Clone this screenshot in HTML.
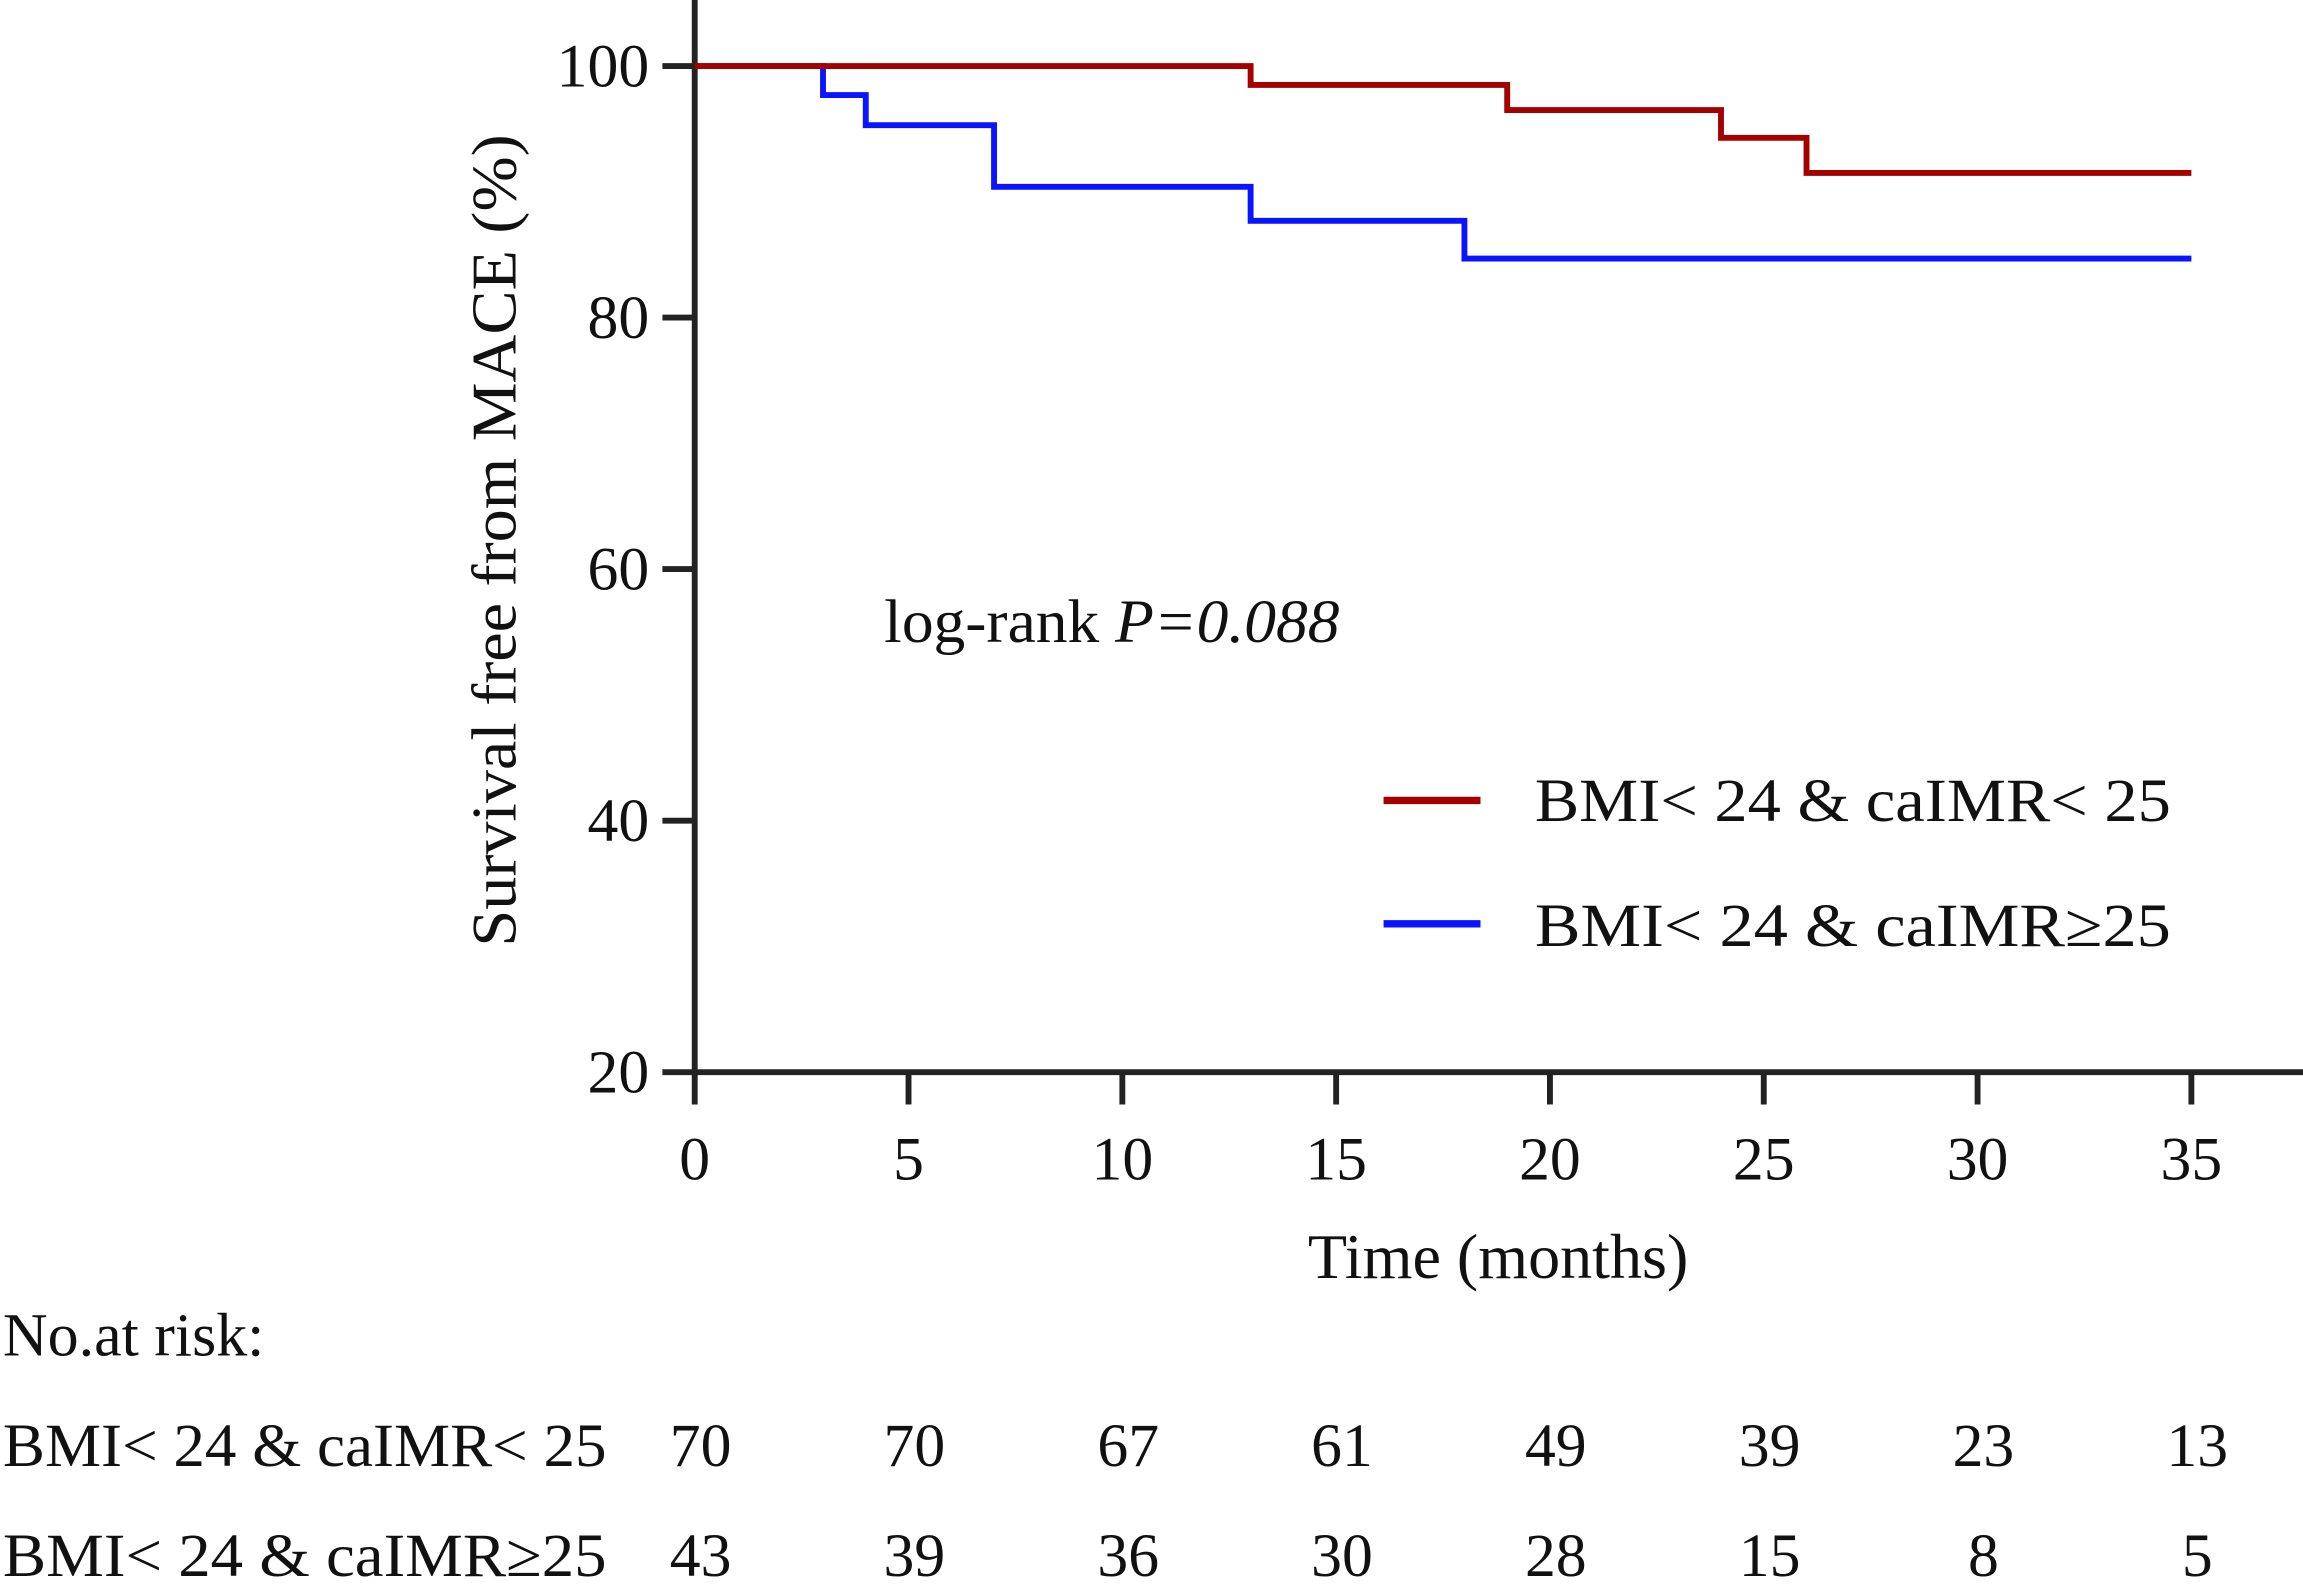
<!DOCTYPE html>
<html><head><meta charset="utf-8"><style>html,body{margin:0;padding:0;background:#fff}svg{display:block}text{font-family:"Liberation Serif",serif;fill:#111}</style></head>
<body>
<svg id="chart" width="2303" height="1584" viewBox="0 0 1568 1078.5" preserveAspectRatio="none" xmlns="http://www.w3.org/2000/svg">
<g id="g"></g>
</svg>
<script>
const xTicks=[0,5,10,15,20,25,30,35];
const yTicks=[20,40,60,80,100];
const redTimes=[0,13,19,24,26,35];
const redSurv=[100,98.5,96.5,94.3,91.5,91.5];
const blueTimes=[0,3,4,7,13,18,35];
const blueSurv=[100,97.7,95.3,90.4,87.7,84.7,84.7];
const riskTimes=[0,5,10,15,20,25,30,35];
const riskRed=[70,70,67,61,49,39,23,13];
const riskBlue=[43,39,36,30,28,15,8,5];
const X=t=>473+t*(1492-473)/35;
const Y=v=>730-(v-20)*(730-45)/80;
const NS="http://www.w3.org/2000/svg";
const g=document.getElementById('g');
function el(tag,attrs,txt){const e=document.createElementNS(NS,tag);for(const k in attrs)e.setAttribute(k,attrs[k]);if(txt!==undefined)e.textContent=txt;g.appendChild(e);return e;}
let e;
e=el('line',{x1:473,y1:0,x2:473,y2:732,stroke:'#222','stroke-width':4});


e=el('line',{x1:471,y1:730,x2:1568,y2:730,stroke:'#222','stroke-width':4});


xTicks.forEach(t=>{
 e=el('line',{x1:X(t),y1:730,x2:X(t),y2:752,stroke:'#222','stroke-width':4});
 
 
 e=el('text',{x:X(t),y:803,'text-anchor':'middle','font-size':42},t);
 
 
});
yTicks.forEach(v=>{
 e=el('line',{x1:451,y1:Y(v),x2:473,y2:Y(v),stroke:'#222','stroke-width':4});
 
 
 e=el('text',{x:442,y:Y(v)+14,'text-anchor':'end','font-size':42},v);
 
 
});
e=el('text',{x:1020,y:870,'text-anchor':'middle','font-size':43,textLength:259,lengthAdjust:'spacingAndGlyphs'},'Time (months)');


e=el('text',{x:0,y:0,'text-anchor':'middle','font-size':43,textLength:553,lengthAdjust:'spacingAndGlyphs',transform:'translate(351,368) rotate(-90)'},'Survival free from MACE (%)');


function step(ts,vs){let d='M'+X(ts[0])+','+Y(vs[0]);for(let i=1;i<ts.length;i++){d+=' H'+X(ts[i])+' V'+Y(vs[i]);}return d;}
e=el('path',{d:step(blueTimes,blueSurv),fill:'none',stroke:'#0a14ff','stroke-width':4});


e=el('path',{d:step(redTimes,redSurv),fill:'none',stroke:'#a50000','stroke-width':4});


e=el('text',{x:602,y:437,'font-size':42,textLength:310,lengthAdjust:'spacingAndGlyphs'});
e.innerHTML='log-rank <tspan font-style="italic">P=0.088</tspan>';


e=el('line',{x1:942,y1:545,x2:1008,y2:545,stroke:'#a50000','stroke-width':5});


e=el('text',{x:1045,y:559,'font-size':42,textLength:433,lengthAdjust:'spacingAndGlyphs'},'BMI< 24 & caIMR< 25');


e=el('line',{x1:942,y1:629,x2:1008,y2:629,stroke:'#0a14ff','stroke-width':5});


e=el('text',{x:1045,y:644,'font-size':42,textLength:433,lengthAdjust:'spacingAndGlyphs'},'BMI< 24 & caIMR≥25');


e=el('text',{x:2,y:923,'font-size':42,textLength:178,lengthAdjust:'spacingAndGlyphs'},'No.at risk:');


e=el('text',{x:2,y:998,'font-size':42,textLength:411,lengthAdjust:'spacingAndGlyphs'},'BMI< 24 & caIMR< 25');


e=el('text',{x:2,y:1073,'font-size':42,textLength:411,lengthAdjust:'spacingAndGlyphs'},'BMI< 24 & caIMR≥25');


riskTimes.forEach((t,i)=>{
 e=el('text',{x:X(t)+4,y:998,'text-anchor':'middle','font-size':42},riskRed[i]);
 
 
 e=el('text',{x:X(t)+4,y:1073,'text-anchor':'middle','font-size':42},riskBlue[i]);
 
 
});
</script>
</body></html>
